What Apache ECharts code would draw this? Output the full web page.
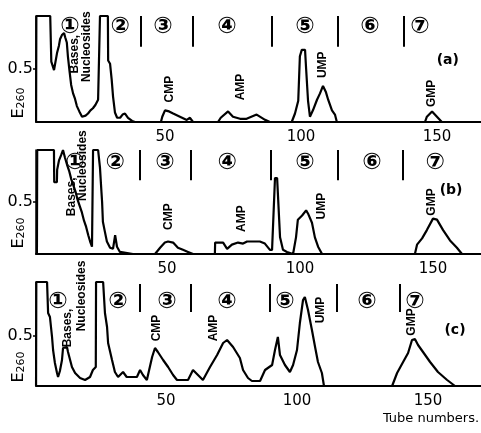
<!DOCTYPE html>
<html>
<head>
<meta charset="utf-8">
<script src="https://cdn.jsdelivr.net/npm/echarts@6/dist/echarts.min.js"></script>
<style>html,body{margin:0;padding:0;background:#fff}#c{width:481px;height:433px}</style>
</head>
<body>
<div id="c"></div>
<script>
// Elution profiles [tube number, E260]
const profileA = [[2.6,0],[2.7,1.0],[7.8,1.0],[8.2,0.57],[8.8,0.57],[9.2,0.49],[9.9,0.49],[10.3,0.65],[11.0,0.72],[11.4,0.78],[12.1,0.82],[12.9,0.84],[13.3,0.80],[13.9,0.75],[14.3,0.62],[14.9,0.48],[15.5,0.35],[16.2,0.27],[16.9,0.22],[17.6,0.15],[18.5,0.10],[19.5,0.05],[20.0,0.04],[20.8,0.06],[21.7,0.08],[22.6,0.11],[23.5,0.13],[24.4,0.16],[25.4,0.21],[26.0,0.21],[26.1,1.0],[29.0,1.0],[29.1,0.58],[29.8,0.55],[30.4,0.40],[30.9,0.24],[31.6,0.09],[32.4,0.04],[33.5,0.04],[34.4,0.07],[35.3,0.08],[36.4,0.04],[37.9,0.01],[39.0,0],[48.5,0],[49.0,0.05],[50.0,0.11],[51.5,0.10],[53.0,0.08],[55.5,0.05],[58.0,0.02],[59.2,0.04],[60.3,0],[69.5,0],[70.5,0.04],[73.2,0.10],[75.0,0.05],[77.6,0.03],[80.0,0.03],[83.7,0.07],[86.8,0.02],[88.6,0],[96.6,0],[97.8,0.08],[99.0,0.20],[99.6,0.62],[100.3,0.68],[101.5,0.68],[101.9,0.50],[102.6,0.20],[103.3,0.05],[104.4,0.11],[105.9,0.21],[107.0,0.27],[108.1,0.34],[109.2,0.28],[110.0,0.21],[111.4,0.11],[112.5,0.07],[113.2,0],[145.6,0],[146.3,0.05],[148.2,0.10],[150.0,0.05],[151.8,0]];
const profileB = [[1.1,0],[1.2,1.0],[7.5,1.0],[7.6,0.69],[8.6,0.69],[8.7,0.81],[9.4,0.90],[10.2,0.95],[10.9,1.0],[11.6,0.93],[12.4,0.86],[13.2,0.80],[14.0,0.72],[14.8,0.66],[15.6,0.60],[16.4,0.52],[17.2,0.46],[18.0,0.40],[18.8,0.32],[19.6,0.26],[20.4,0.18],[21.1,0.12],[21.8,0.07],[22.1,0.07],[22.2,1.0],[24.1,1.0],[24.8,0.83],[25.3,0.62],[25.6,0.50],[25.9,0.31],[26.6,0.22],[27.4,0.12],[28.6,0.06],[29.7,0.05],[30.5,0.18],[31.2,0.07],[32.3,0.02],[37.2,0],[45.5,0],[47.4,0.06],[49.2,0.11],[50.4,0.12],[52.3,0.11],[54.1,0.06],[56.0,0.04],[57.9,0.02],[59.8,0],[68.0,0],[68.1,0.11],[71.1,0.11],[72.6,0.05],[74.4,0.09],[76.7,0.11],[78.6,0.10],[80.1,0.12],[84.9,0.12],[86.8,0.10],[88.7,0.04],[89.5,0.04],[90.6,0.73],[91.4,0.73],[92.5,0.16],[93.6,0.04],[95.1,0.02],[97.4,0],[98.5,0.16],[99.2,0.33],[100.8,0.37],[102.3,0.42],[103.0,0.39],[104.5,0.30],[105.6,0.16],[106.8,0.07],[108.3,0],[143.2,0],[144.0,0.09],[145.9,0.15],[147.7,0.23],[150.0,0.34],[151.5,0.33],[153.8,0.23],[156.4,0.13],[159.0,0.06],[160.9,0]];
const profileC = [[0.4,0],[0.5,1.04],[4.6,1.04],[5.0,0.73],[5.7,0.69],[6.5,0.49],[6.9,0.36],[7.6,0.23],[8.4,0.13],[8.8,0.09],[9.5,0.15],[10.3,0.26],[10.7,0.38],[12.2,0.39],[12.6,0.34],[13.4,0.26],[14.1,0.19],[15.3,0.13],[17.2,0.08],[19.1,0.06],[21.0,0.09],[22.1,0.16],[23.2,0.19],[23.3,1.04],[26.0,1.04],[26.7,0.73],[27.5,0.59],[27.9,0.43],[29.4,0.26],[30.5,0.14],[31.7,0.09],[33.6,0.14],[35.0,0.09],[38.9,0.09],[40.1,0.16],[41.2,0.11],[42.7,0.06],[44.7,0.29],[45.8,0.38],[46.9,0.34],[48.9,0.26],[50.8,0.19],[52.7,0.11],[54.2,0.06],[58.4,0.06],[60.3,0.16],[62.2,0.11],[64.1,0.06],[66.8,0.19],[69.5,0.31],[71.8,0.43],[73.3,0.46],[75.6,0.39],[78.2,0.28],[79.4,0.16],[81.3,0.08],[82.8,0.05],[85.9,0.05],[87.8,0.16],[90.5,0.21],[91.6,0.36],[92.7,0.49],[93.5,0.31],[95.4,0.21],[97.3,0.14],[98.5,0.21],[100.0,0.36],[101.1,0.63],[102.3,0.86],[103.0,0.89],[104.2,0.76],[105.7,0.56],[106.9,0.39],[108.0,0.24],[109.5,0.13],[110.3,0],[136.3,0],[138.2,0.13],[140.5,0.24],[142.4,0.33],[143.9,0.46],[145.0,0.47],[146.2,0.41],[148.1,0.34],[150.8,0.24],[153.8,0.14],[157.3,0.06],[160.3,0]];

// Fraction separators (tube numbers) and their vertical extent (E260)
const separatorsA = [41.2, 60.3, 89.3, 113.6, 137.9];
const separatorsB = [39.8, 59.0, 89.1, 114.3, 138.7];
const separatorsC = [40.1, 59.5, 89.7, 115.3, 139.3];
const sepSpanA = [0.71, 1.0], sepSpanB = [0.71, 1.0], sepSpanC = [0.74, 1.02];

// Fraction numbers
const fractionNames = ['①','②','③','④','⑤','⑥','⑦'];
const fractionPosA = [15.1, 33.5, 49.3, 72.8, 101.5, 125.4, 143.8], fractionLevelA = 0.90;
const fractionPosB = [15.4, 30.5, 49.2, 72.6, 101.9, 127.1, 150.8], fractionLevelB = 0.875;
const fractionPosC = [8.8, 31.7, 50.4, 73.3, 95.4, 126.7, 145.0], fractionLevelC = 0.84;

// Peak labels
const peakNames = ['Bases,', 'Nucleosides', 'CMP', 'AMP', 'UMP', 'GMP'];
const peakPosA = [[16.9,0.64],[21.3,0.71],[51.8,0.31],[77.9,0.33],[108.1,0.54],[148.2,0.27]];
const peakPosB = [[14.3,0.55],[18.4,0.85],[50.8,0.36],[78.2,0.34],[108.3,0.46],[149.6,0.50]];
const peakPosC = [[12.6,0.58],[17.9,0.90],[46.6,0.58],[68.3,0.58],[109.2,0.76],[143.9,0.64]];
const panelTags = ['(a)', '(b)', '(c)'];
const panelTagPos = [[154.0,0.585],[156.8,0.61],[160.3,0.56]];

const xTickLabels = [50, 100, 150];
const yTickLabels = [0.5];

const panels = [
  {grid:{left:36, top:16, width:445, height:106}, xr:[2.57,166.2], ymax:1.0, prof:profileA, sep:separatorsA, span:sepSpanA, fp:fractionPosA, fl:fractionLevelA, pk:peakPosA},
  {grid:{left:36, top:150, width:445, height:104}, xr:[0.75,168.05], ymax:1.0, prof:profileB, sep:separatorsB, span:sepSpanB, fp:fractionPosB, fl:fractionLevelB, pk:peakPosB},
  {grid:{left:36, top:282, width:445, height:104}, xr:[0.38,170.23], ymax:1.04, prof:profileC, sep:separatorsC, span:sepSpanC, fp:fractionPosC, fl:fractionLevelC, pk:peakPosC}
];

const ink = '#000';
const plainLabel = {color:ink, textBorderWidth:0, textBorderColor:'transparent', textShadowBlur:0, opacity:1};
const grid = [], xAxis = [], yAxis = [], series = [];
panels.forEach((p, i) => {
  grid.push(p.grid);
  xAxis.push({type:'value', gridIndex:i, min:p.xr[0], max:p.xr[1],
    axisLine:{show:true, onZero:false, lineStyle:{color:ink, width:2}},
    axisTick:{show:false}, splitLine:{show:false},
    axisLabel:{customValues:xTickLabels, color:ink, fontSize:15, fontFamily:'DejaVu Sans', margin:8}});
  yAxis.push({type:'value', gridIndex:i, min:0, max:p.ymax,
    axisLine:{show:true, lineStyle:{color:ink, width:1.5}},
    axisTick:{show:true, customValues:yTickLabels, length:3, lineStyle:{color:ink, width:1.5}},
    splitLine:{show:false},
    axisLabel:{customValues:yTickLabels, color:ink, fontSize:16, fontFamily:'DejaVu Sans', margin:3}});
  series.push({type:'line', xAxisIndex:i, yAxisIndex:i, data:p.prof, showSymbol:false, clip:false,
    lineStyle:{color:ink, width:2.2}, silent:true,
    markLine:{silent:true, symbol:'none', label:{show:false}, lineStyle:{color:ink, width:2, type:'solid'},
      data:p.sep.map(t => [{coord:[t, p.span[1]]}, {coord:[t, p.span[0]]}])}});
  series.push({type:'scatter', xAxisIndex:i, yAxisIndex:i, symbolSize:1, itemStyle:{color:'rgba(0,0,0,0)'}, silent:true, clip:false,
    data:p.fp.map((t, k) => ({value:[t, p.fl], name:fractionNames[k]})),
    label:Object.assign({show:true, position:'inside', formatter:'{b}', fontSize:23, fontWeight:'bold', fontFamily:'DejaVu Sans'}, plainLabel)});
  series.push({type:'scatter', xAxisIndex:i, yAxisIndex:i, symbolSize:1, itemStyle:{color:'rgba(0,0,0,0)'}, silent:true, clip:false,
    data:p.pk.map((v, k) => ({value:v, name:peakNames[k]})),
    label:Object.assign({show:true, position:'inside', rotate:90, formatter:'{b}', fontSize:12, fontWeight:'bold', fontFamily:'Liberation Sans'}, plainLabel)});
  series.push({type:'scatter', xAxisIndex:i, yAxisIndex:i, symbolSize:1, itemStyle:{color:'rgba(0,0,0,0)'}, silent:true, clip:false,
    data:[{value:panelTagPos[i], name:panelTags[i]}],
    label:Object.assign({show:true, position:'inside', formatter:'{b}', fontSize:14, fontWeight:'bold', fontFamily:'DejaVu Sans'}, plainLabel)});
});

const yNameCenters = [103, 233, 367];
const graphic = yNameCenters.map(cy => ({type:'text', x:19, y:cy, rotation:Math.PI/2, silent:true,
  style:{text:'{e|E}{s|260}', align:'center', verticalAlign:'middle', fill:ink,
    rich:{e:{fontSize:16, fontFamily:'DejaVu Sans', fill:ink, verticalAlign:'bottom'}, s:{fontSize:11, fontFamily:'DejaVu Sans', fill:ink, verticalAlign:'bottom', padding:[4,0,0,0]}}}}));
graphic.push({type:'text', x:431, y:419, silent:true,
  style:{text:'Tube numbers.', align:'center', verticalAlign:'middle', fill:ink, fontSize:13, fontFamily:'DejaVu Sans'}});

const chart = echarts.init(document.getElementById('c'), null, {renderer:'canvas'});
chart.setOption({animation:false, backgroundColor:'#fff', grid, xAxis, yAxis, series, graphic});
</script>
</body>
</html>
